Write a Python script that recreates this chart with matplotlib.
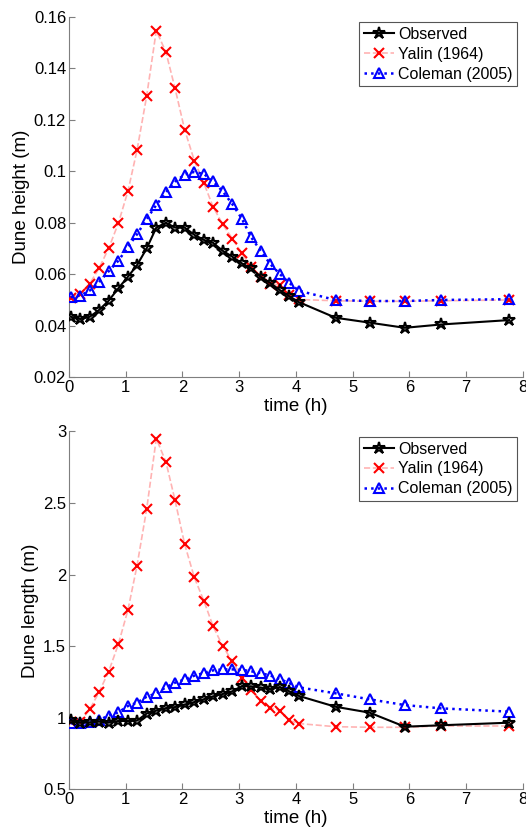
import numpy as np
import matplotlib
matplotlib.use("Agg")
import matplotlib.pyplot as plt

plt.rcParams["font.family"] = ["Liberation Sans", "DejaVu Sans"]

# time of each measurement (h)
time_h = [0.03, 0.20, 0.37, 0.53, 0.70, 0.87, 1.04, 1.20, 1.37, 1.54,
          1.71, 1.87, 2.04, 2.21, 2.38, 2.54, 2.71, 2.88, 3.05, 3.21,
          3.38, 3.55, 3.72, 3.88, 4.05, 4.70, 5.30, 5.92, 6.56, 7.76]

# dune height (m)
height_obs = [0.0435, 0.0426, 0.0435, 0.0461, 0.0497, 0.0545, 0.0590, 0.0635, 0.0700, 0.0781,
              0.0800, 0.0781, 0.0781, 0.0753, 0.0733, 0.0722, 0.0691, 0.0668, 0.0642, 0.0623,
              0.0590, 0.0566, 0.0538, 0.0515, 0.0492, 0.0431, 0.0412, 0.0392, 0.0405, 0.0422]
height_yalin = [0.0509, 0.0523, 0.0564, 0.0623, 0.0700, 0.0797, 0.0922, 0.1081, 0.1291, 0.1546,
                0.1462, 0.1322, 0.1161, 0.1041, 0.0953, 0.0862, 0.0794, 0.0738, 0.0681, 0.0628,
                0.0591, 0.0564, 0.0557, 0.0520, 0.0502, 0.0497, 0.0495, 0.0495, 0.0497, 0.0500]
height_coleman = [0.0511, 0.0517, 0.0537, 0.0569, 0.0611, 0.0652, 0.0705, 0.0755, 0.0814, 0.0869,
                  0.0918, 0.0959, 0.0987, 0.0997, 0.0989, 0.0960, 0.0922, 0.0872, 0.0815, 0.0744,
                  0.0691, 0.0639, 0.0600, 0.0567, 0.0536, 0.0500, 0.0496, 0.0496, 0.0500, 0.0503]

# dune length (m)
length_obs = [0.985, 0.966, 0.969, 0.973, 0.966, 0.978, 0.978, 0.980, 1.030, 1.050,
              1.068, 1.075, 1.093, 1.110, 1.130, 1.150, 1.166, 1.185, 1.222, 1.220,
              1.212, 1.200, 1.215, 1.186, 1.153, 1.077, 1.036, 0.938, 0.948, 0.966]
length_yalin = [0.973, 0.973, 1.061, 1.178, 1.322, 1.512, 1.752, 2.061, 2.456, 2.949,
                2.786, 2.519, 2.212, 1.980, 1.815, 1.640, 1.501, 1.395, 1.281, 1.192,
                1.118, 1.070, 1.050, 0.982, 0.960, 0.938, 0.934, 0.934, 0.943, 0.943]
length_coleman = [0.961, 0.966, 0.973, 0.985, 1.015, 1.038, 1.082, 1.106, 1.147, 1.171,
                  1.213, 1.245, 1.268, 1.294, 1.313, 1.331, 1.338, 1.338, 1.335, 1.325,
                  1.312, 1.295, 1.270, 1.243, 1.213, 1.171, 1.129, 1.089, 1.066, 1.043]

labels = ["Observed", "Yalin (1964)", "Coleman (2005)"]
axis_grey = "#7f7f7f"


def draw_panel(ax, obs, yalin, coleman, ylabel, ylim, yticks, yticklabels):
    ax.plot(time_h, obs, "-", color="black", lw=1.5, marker="*", ms=9,
            mfc="none", mec="black", mew=1.5, label=labels[0], zorder=4)
    ax.plot(time_h, yalin, "--", color="#ffb3b3", lw=1.2, marker="x", ms=7,
            mec="red", mew=1.5, label=labels[1], zorder=3)
    ax.plot(time_h, coleman, ":", color="blue", lw=1.8, marker="^", ms=7.5,
            mfc="none", mec="blue", mew=1.5, label=labels[2], zorder=3)

    ax.set_xlim(0, 8)
    ax.set_ylim(*ylim)
    ax.set_xticks(range(0, 9))
    ax.set_yticks(yticks)
    ax.set_yticklabels(yticklabels)
    ax.set_xlabel("time (h)", fontsize=13.5, labelpad=2)
    ax.set_ylabel(ylabel, fontsize=13.5, labelpad=3)

    for side in ["top", "right"]:
        ax.spines[side].set_visible(False)
    for side in ["left", "bottom"]:
        ax.spines[side].set_color(axis_grey)
    ax.tick_params(direction="in", length=4, color=axis_grey, labelsize=12,
                   labelcolor="black", pad=2)

    leg = ax.legend(loc="upper right", fontsize=11.5, fancybox=False, framealpha=1,
                    handlelength=1.9, handletextpad=0.25, borderpad=0.3,
                    labelspacing=0.3, borderaxespad=0.35)
    leg.get_frame().set_edgecolor("#555555")
    leg.get_frame().set_linewidth(0.8)


fig = plt.figure(figsize=(5.26, 8.31), dpi=100)
ax1 = fig.add_axes([0.131, 0.546, 0.863, 0.434])
ax2 = fig.add_axes([0.131, 0.050, 0.863, 0.431])

draw_panel(ax1, height_obs, height_yalin, height_coleman, "Dune height (m)",
           (0.02, 0.16), np.arange(0.02, 0.161, 0.02),
           ["0.02", "0.04", "0.06", "0.08", "0.1", "0.12", "0.14", "0.16"])
draw_panel(ax2, length_obs, length_yalin, length_coleman, "Dune length (m)",
           (0.5, 3.0), np.arange(0.5, 3.01, 0.5),
           ["0.5", "1", "1.5", "2", "2.5", "3"])

fig.savefig("out.png", dpi=100)
